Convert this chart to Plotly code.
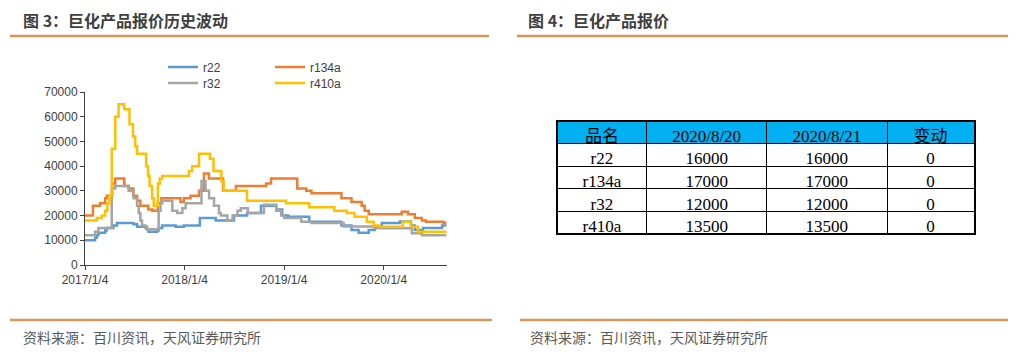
import plotly.graph_objects as go

# ---------------- data (step change points) ----------------
r22_dates = ["2017-01-04", "2017-02-10", "2017-02-16", "2017-02-22", "2017-03-19", "2017-03-25",
             "2017-04-18", "2017-05-01", "2017-07-01", "2017-07-14", "2017-08-19", "2017-08-25",
             "2017-09-25", "2017-10-01", "2017-10-14", "2017-12-02", "2018-01-01", "2018-03-01",
             "2018-04-28", "2018-07-04", "2018-08-21", "2018-10-11", "2018-12-06", "2018-12-28",
             "2019-01-19", "2019-04-06", "2019-08-02", "2019-09-08", "2019-10-04", "2019-11-10",
             "2019-12-02", "2019-12-28", "2020-03-03", "2020-04-13", "2020-04-27", "2020-05-27",
             "2020-08-05", "2020-08-21"]
r22_values = [10000, 11000, 12000, 13000, 14000, 15000,
              16000, 17000, 16500, 15500, 14500, 13500,
              14000, 15000, 16000, 15500, 16000, 19000,
              18000, 20000, 21000, 24000, 22500, 20000,
              19500, 17500, 16000, 14200, 13000, 14200,
              15600, 17000, 17600, 16000, 14200, 15000,
              16000, 16000]

r134a_dates = ["2017-01-04", "2017-02-02", "2017-02-28", "2017-03-19", "2017-03-25", "2017-04-14",
               "2017-04-25", "2017-05-28", "2017-06-13", "2017-06-30", "2017-07-14", "2017-07-26",
               "2017-08-24", "2017-09-08", "2017-09-28", "2017-10-11", "2017-12-20", "2018-01-01",
               "2018-01-26", "2018-02-26", "2018-03-16", "2018-04-03", "2018-05-25", "2018-07-11",
               "2018-10-30", "2018-11-17", "2019-02-21", "2019-03-26", "2019-04-14", "2019-08-02",
               "2019-09-08", "2019-10-15", "2019-10-26", "2019-11-10", "2020-03-10", "2020-04-02",
               "2020-04-27", "2020-05-23", "2020-06-07", "2020-08-10", "2020-08-21"]
r134a_values = [20000, 24000, 25000, 27000, 28000, 33000,
                35000, 32000, 31000, 28000, 26000, 24000,
                22500, 22000, 25000, 27000, 25500, 27000,
                28000, 30000, 37000, 35000, 30000, 32000,
                33000, 35000, 31000, 30000, 29000, 27000,
                25500, 24000, 22000, 20500, 21500, 20500,
                19000, 18000, 17500, 17000, 17000]

r32_dates = ["2017-01-04", "2017-02-10", "2017-02-22", "2017-04-12", "2017-04-25", "2017-06-13",
             "2017-07-01", "2017-07-14", "2017-07-20", "2017-07-26", "2017-08-01", "2017-08-13",
             "2017-08-19", "2017-10-01", "2017-10-08", "2017-10-14", "2017-11-20", "2017-12-08",
             "2017-12-27", "2018-01-08", "2018-03-07", "2018-03-22", "2018-04-04", "2018-04-22",
             "2018-05-10", "2018-05-17", "2018-06-10", "2018-06-29", "2018-07-17", "2018-07-29",
             "2018-08-24", "2018-10-22", "2018-12-06", "2018-12-24", "2019-01-04", "2019-03-08",
             "2019-04-14", "2019-08-10", "2019-12-02", "2020-04-16", "2020-05-23", "2020-08-21"]
r32_values = [12000, 13500, 15000, 31000, 32000, 30000,
              27000, 24000, 21000, 18000, 16000, 15000,
              14500, 22000, 25000, 26000, 22000, 21000,
              23000, 25000, 34000, 30000, 27000, 24000,
              21000, 20000, 18000, 20000, 22000, 23000,
              21000, 24400, 22000, 20000, 19000, 17500,
              17000, 15600, 14900, 12800, 12000, 12000]

r410a_dates = ["2017-01-04", "2017-02-16", "2017-03-07", "2017-03-19", "2017-03-27", "2017-04-04",
               "2017-04-12", "2017-04-25", "2017-05-07", "2017-05-28", "2017-06-16", "2017-06-29",
               "2017-07-07", "2017-07-14", "2017-08-16", "2017-08-23", "2017-08-29", "2017-09-07",
               "2017-09-13", "2017-09-28", "2017-10-05", "2017-10-14", "2018-01-20", "2018-02-01",
               "2018-02-26", "2018-04-07", "2018-04-20", "2018-05-19", "2018-05-27", "2018-08-21",
               "2019-01-11", "2019-04-06", "2019-07-07", "2019-08-21", "2019-09-19", "2019-11-03",
               "2019-11-28", "2019-12-20", "2020-03-14", "2020-04-13", "2020-05-08", "2020-08-21"]
r410a_values = [18000, 19000, 20000, 22000, 25000, 28000,
                47000, 60000, 65000, 63000, 57000, 52000,
                48000, 45000, 40000, 36000, 32000, 27000,
                24000, 33000, 35000, 36000, 38000, 40000,
                45000, 43000, 38000, 34000, 30000, 26000,
                25000, 23400, 22000, 21000, 19500, 17500,
                16000, 15500, 17500, 15500, 13500, 13500]

series_names = ["r22", "r134a", "r32", "r410a"]
series_colors = ["#5B9BD5", "#ED7D31", "#A5A5A5", "#FFC000"]

x_tick_vals = ["2017-01-04", "2018-01-04", "2019-01-04", "2020-01-04"]
x_tick_text = ["2017/1/4", "2018/1/4", "2019/1/4", "2020/1/4"]
y_tick_vals = [0, 10000, 20000, 30000, 40000, 50000, 60000, 70000]

table_header = ["品名", "2020/8/20", "2020/8/21", "变动"]
table_products = ["r22", "r134a", "r32", "r410a"]
table_0820 = [16000, 17000, 12000, 13500]
table_0821 = [16000, 17000, 12000, 13500]
table_change = [0, 0, 0, 0]

title_left = "图 3：巨化产品报价历史波动"
title_right = "图 4：巨化产品报价"
source_text = "资料来源：百川资讯，天风证券研究所"

# ---------------- figure ----------------
# page body has an 8px margin, so the figure is 8px smaller and coordinates are screen-based
OFF = 8
W, H = 1018 - OFF, 358 - OFF
def px(x):
    return (x - OFF) / W
def py(y):
    return (H - (y - OFF)) / H

fig = go.Figure()

all_dates = [r22_dates, r134a_dates, r32_dates, r410a_dates]
all_vals = [r22_values, r134a_values, r32_values, r410a_values]
legend_ids = ["legend", "legend2", "legend3", "legend4"]
for name, color, d, v, lg in zip(series_names, series_colors, all_dates, all_vals, legend_ids):
    fig.add_trace(go.Scatter(
        x=d, y=v, name=name, mode="lines", line=dict(color=color, width=2.5, shape="hv"),
        legend=lg, hoverinfo="skip"))

fig.add_trace(go.Table(
    domain=dict(x=[px(557), px(975)], y=[py(260), py(121)]),
    columnwidth=[90, 120, 121, 87],
    header=dict(values=table_header, fill_color="#00B0F0", line=dict(color="black", width=1),
                align="center", height=22.6,
                font=dict(family="Liberation Serif, Noto Sans CJK SC", size=17, color="black")),
    cells=dict(values=[table_products, table_0820, table_0821, table_change],
               fill_color="white", line=dict(color="black", width=1), align="center", height=22.6,
               font=dict(family="Liberation Serif", size=17, color="black")),
))

axis_color = "#404040"
leg_font = dict(family="Liberation Sans", size=12, color="#404040")
def leg(xs, ys):
    return dict(x=px(xs), y=py(ys), xanchor="left", yanchor="middle", orientation="v",
                bgcolor="rgba(0,0,0,0)", itemwidth=30, tracegroupgap=0, font=leg_font)

fig.update_layout(
    width=W, height=H, autosize=False,
    margin=dict(l=0, r=0, t=0, b=0, autoexpand=False),
    paper_bgcolor="white", plot_bgcolor="white",
    font=dict(family="Liberation Sans", color="#404040"),
    xaxis=dict(domain=[px(85), px(447)], type="date",
               range=["2017-01-04", "2020-08-23"],
               tickvals=x_tick_vals, ticktext=x_tick_text,
               showgrid=False, zeroline=False, showline=True, linecolor=axis_color, linewidth=1,
               ticks="outside", ticklen=4, tickcolor=axis_color, automargin=False,
               tickfont=dict(family="Liberation Sans", size=12, color="#404040")),
    yaxis=dict(domain=[py(265), py(92)], range=[0, 70000],
               tickvals=y_tick_vals, tickformat="d",
               showgrid=False, zeroline=False, showline=True, linecolor=axis_color, linewidth=1,
               ticks="outside", ticklen=4, tickcolor=axis_color, automargin=False,
               tickfont=dict(family="Liberation Sans", size=12, color="#404040")),
    legend=leg(163, 67),
    legend2=leg(270, 67),
    legend3=leg(163, 83),
    legend4=leg(270, 83),
    showlegend=True,
)

rule_color = "#D4975A"
shapes = [
    dict(type="line", xref="paper", yref="paper", x0=px(10), x1=px(489), y0=py(36), y1=py(36),
         line=dict(color=rule_color, width=2.5)),
    dict(type="line", xref="paper", yref="paper", x0=px(517), x1=px(1008), y0=py(36), y1=py(36),
         line=dict(color=rule_color, width=2.5)),
    dict(type="line", xref="paper", yref="paper", x0=px(10), x1=px(492), y0=py(320), y1=py(320),
         line=dict(color=rule_color, width=2.5)),
    dict(type="line", xref="paper", yref="paper", x0=px(520), x1=px(1008), y0=py(320), y1=py(320),
         line=dict(color=rule_color, width=2.5)),
    dict(type="rect", xref="paper", yref="paper", x0=px(557), x1=px(975), y0=py(234), y1=py(121),
         line=dict(color="black", width=2), fillcolor="rgba(0,0,0,0)", layer="above"),
]
fig.update_layout(shapes=shapes)

annots = [
    dict(text="<b>" + title_left + "</b>", x=px(21), y=py(20)),
    dict(text="<b>" + title_right + "</b>", x=px(526), y=py(20)),
]
for a in annots:
    fig.add_annotation(text=a["text"], x=a["x"], y=a["y"], xref="paper", yref="paper",
                       xanchor="left", yanchor="middle", showarrow=False,
                       font=dict(family="Noto Sans CJK SC", size=16, color="#3F3F3F"))
for x0 in (21, 528):
    fig.add_annotation(text=source_text, x=px(x0), y=py(337), xref="paper", yref="paper",
                       xanchor="left", yanchor="middle", showarrow=False,
                       font=dict(family="Noto Sans CJK SC", size=14, color="#595959"))

fig.write_html("out.html")
